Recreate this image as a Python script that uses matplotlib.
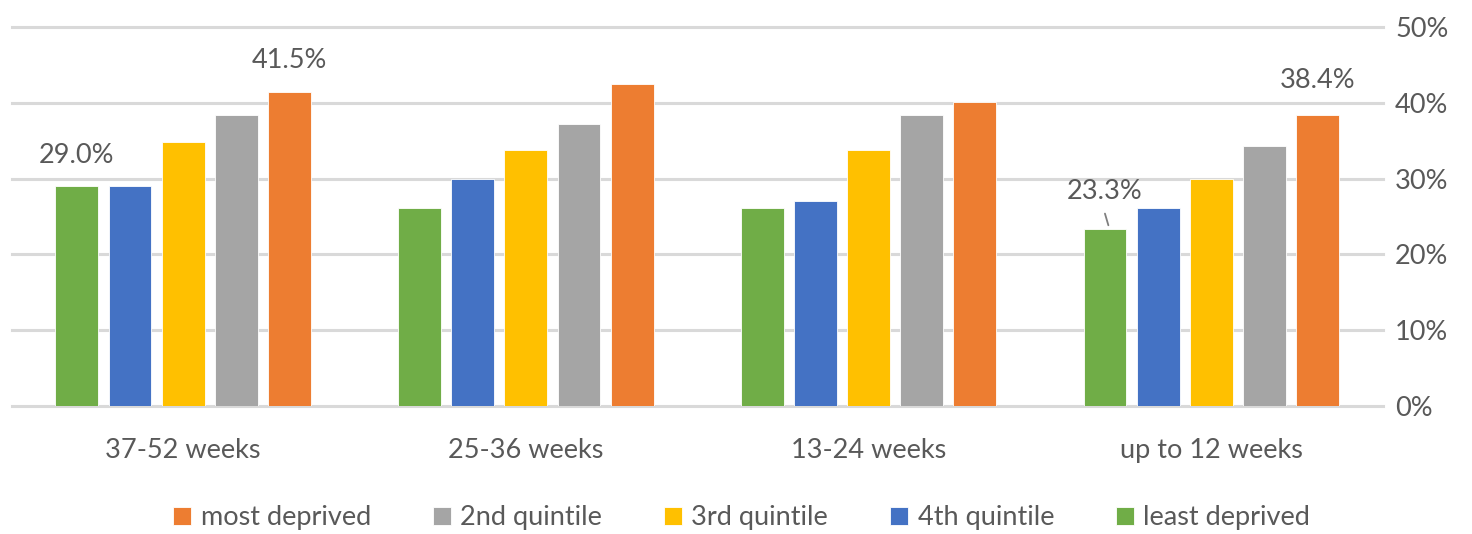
import matplotlib.pyplot as plt
import numpy as np

plt.rcParams['font.family'] = ['Lato', 'DejaVu Sans']

periods = ['37-52 weeks', '25-36 weeks', '13-24 weeks', 'up to 12 weeks']
# order of bars inside each group: least deprived -> most deprived
series = ['least deprived', '4th quintile', '3rd quintile', '2nd quintile', 'most deprived']
least_deprived = [29.0, 26.1, 26.1, 23.3]
fourth_quintile = [29.0, 29.9, 27.1, 26.1]
third_quintile = [34.8, 33.8, 33.8, 29.9]
second_quintile = [38.4, 37.2, 38.4, 34.3]
most_deprived = [41.5, 42.5, 40.1, 38.4]
values = [least_deprived, fourth_quintile, third_quintile, second_quintile, most_deprived]
colors = ['#70AD47', '#4472C4', '#FFC000', '#A5A5A5', '#ED7D31']

txt = '#595959'
fs = 19.5

fig = plt.figure(figsize=(14.72, 5.34), dpi=100)
ax = fig.add_axes([0.008, 0.2397, 0.9313, 0.7095])

x = np.arange(len(periods))
step = 0.155
width = 0.125
bars = {}
for i, (name, vals, c) in enumerate(zip(series, values, colors)):
    bars[name] = ax.bar(x + (i - 2) * step, vals, width, color=c, label=name,
                        edgecolor='white', linewidth=0.6, zorder=3)

ax.set_xlim(-0.5, 3.5)
ax.set_ylim(0, 50)
ax.set_yticks(range(0, 51, 10))
ax.set_yticklabels([f'{v}%' for v in range(0, 51, 10)])
ax.yaxis.tick_right()
ax.grid(True, axis='y', color='#d9d9d9', linewidth=2.2, zorder=0)
for gl in ax.get_ygridlines():
    gl.set_clip_on(False)
ax.set_axisbelow(True)
for s in ax.spines.values():
    s.set_visible(False)
ax.tick_params(axis='y', length=0, pad=9, labelsize=fs, labelcolor=txt)
ax.tick_params(axis='x', length=0, pad=23, labelsize=fs, labelcolor=txt)
ax.set_xticks(x)
ax.set_xticklabels(periods)

# value labels on selected bars
def label(name, idx, dy):
    b = bars[name][idx]
    v = values[series.index(name)][idx]
    ax.annotate(f'{v:.1f}%', (b.get_x() + b.get_width() / 2, v),
                xytext=(0, dy), textcoords='offset pixels', ha='center', va='center',
                fontsize=fs, color=txt)

label('least deprived', 0, 31)
label('most deprived', 0, 31)
label('most deprived', 3, 35)
label('least deprived', 3, 38)
b = bars['least deprived'][3]
bx = b.get_x() + b.get_width() / 2
ax.annotate('', (bx + 0.012, 23.3 + 0.2), xytext=(-5, 17), textcoords='offset pixels',
            arrowprops=dict(arrowstyle='-', color='#7f7f7f', linewidth=1.3))

handles = [bars[n] for n in series[::-1]]
fig.legend(handles, series[::-1], loc='center', bbox_to_anchor=(0.504, 0.03), ncol=5,
           frameon=False, fontsize=fs, labelcolor=txt, handlelength=0.65, handleheight=0.65,
           handletextpad=0.35, columnspacing=2.3)

fig.savefig('out.png', dpi=100)
